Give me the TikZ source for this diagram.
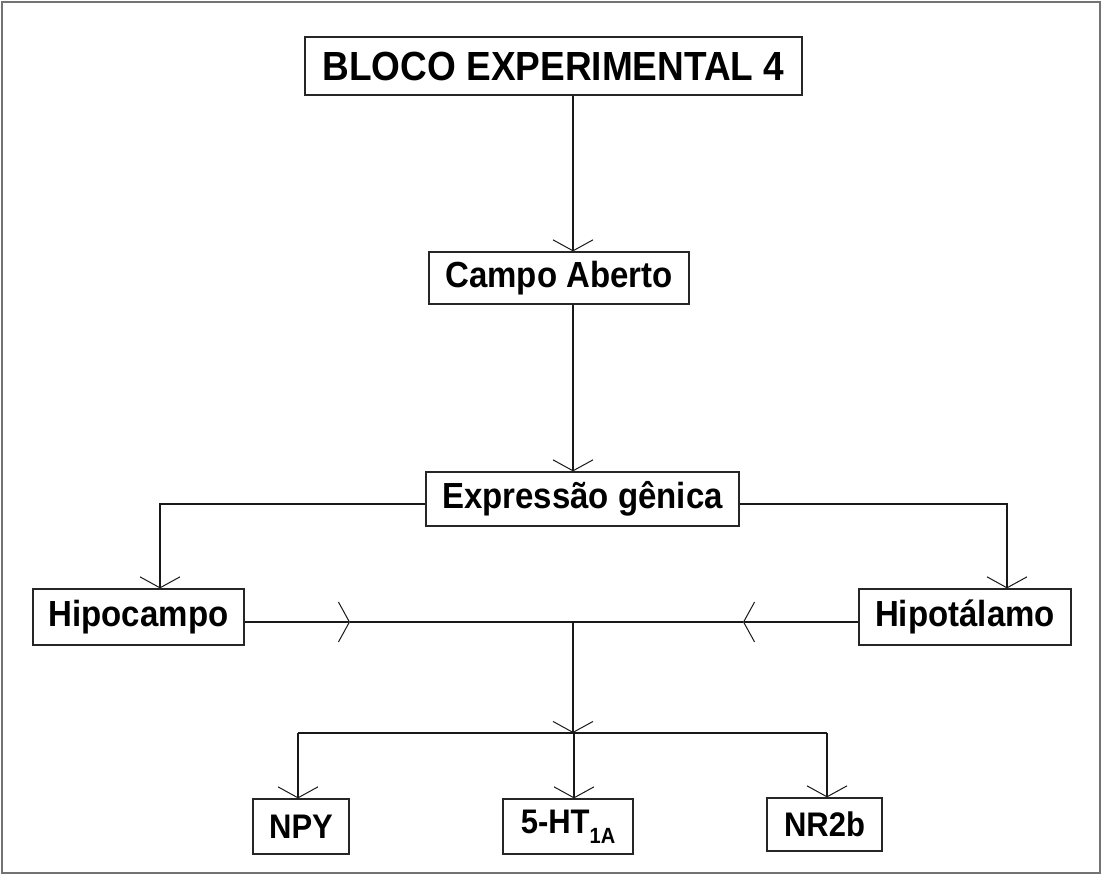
\documentclass[tikz,border=0pt]{standalone}
\usepackage{fontspec}
\setmainfont{Liberation Sans}
\usetikzlibrary{arrows.meta}
\newcommand{\tallt}[1]{\scalebox{1}[1.1]{#1}}
\begin{document}
\begin{tikzpicture}[x=1pt,y=-1pt,
  box/.style={draw=black!85,line width=1.2pt,inner sep=0pt,fill=white,
    font=\bfseries\fontsize{33}{36}\selectfont},
  small/.style={font=\bfseries\fontsize{31}{34}\selectfont},
  conn/.style={draw=black!90,line width=1.1pt},
  arr/.style={conn,-{Straight Barb[length=11pt,width=40pt,line width=1pt]}}]
\useasboundingbox (0,0) rectangle (1103,875);
\draw[black!55,line width=1.2pt] (2,2) rectangle (1100,873);
% nodes
\node[box,minimum width=497pt,minimum height=58pt,font=\bfseries\fontsize{37}{40}\selectfont] (bloco) at (553.5,66) {\tallt{BLOCO EXPERIMENTAL 4}};
\node[box,minimum width=260pt,minimum height=52pt] (campo) at (559,278) {\tallt{Campo Aberto}};
\node[box,minimum width=313pt,minimum height=54pt] (expr) at (582.5,499) {\tallt{Expressão gênica}};
\node[box,minimum width=211pt,minimum height=56pt] (hipoc) at (138.5,617) {\tallt{Hipocampo}};
\node[box,minimum width=212pt,minimum height=56pt] (hipot) at (965,617) {\tallt{Hipotálamo}};
\node[box,small,minimum width=96pt,minimum height=55pt] (npy) at (301,826.5) {\tallt{NPY}};
\node[box,small,minimum width=130pt,minimum height=55pt] (ht) at (568,826.5) {\tallt{5-HT{\fontsize{20}{20}\selectfont\raisebox{-9pt}{1A}}}};
\node[box,small,minimum width=115pt,minimum height=53pt] (nr) at (824.5,824.5) {\tallt{NR2b}};
% helper coordinates
\coordinate (axis) at (573,0);
\coordinate (ey) at (0,504);
\coordinate (hx) at (160,0);
\coordinate (tx) at (1007,0);
\coordinate (my) at (0,622);
\coordinate (a1) at (350,622);
\coordinate (a2) at (743,622);
\coordinate (jm) at (573,622);
\coordinate (jb) at (573,733);
\coordinate (nx) at (298,0);
\coordinate (htx) at (574,0);
\coordinate (nrx) at (827,0);
% connectors
\draw[arr] (bloco.south -| axis) -- (campo.north -| axis);
\draw[arr] (campo.south -| axis) -- (expr.north -| axis);
\draw[arr] (expr.west |- ey) -| (hipoc.north -| hx);
\draw[arr] (expr.east |- ey) -| (hipot.north -| tx);
\draw[arr] (hipoc.east |- my) -- (a1);
\draw[conn] (a1) -- (jm);
\draw[arr] (hipot.west |- my) -- (a2);
\draw[conn] (a2) -- (jm);
\draw[arr] (jm) -- (jb);
\draw[conn] (jb -| nx) -- (jb -| nrx);
\draw[arr] (jb -| nx) -- (npy.north -| nx);
\draw[arr] (jb -| htx) -- (ht.north -| htx);
\draw[arr] (jb -| nrx) -- (nr.north -| nrx);
\end{tikzpicture}
\end{document}
